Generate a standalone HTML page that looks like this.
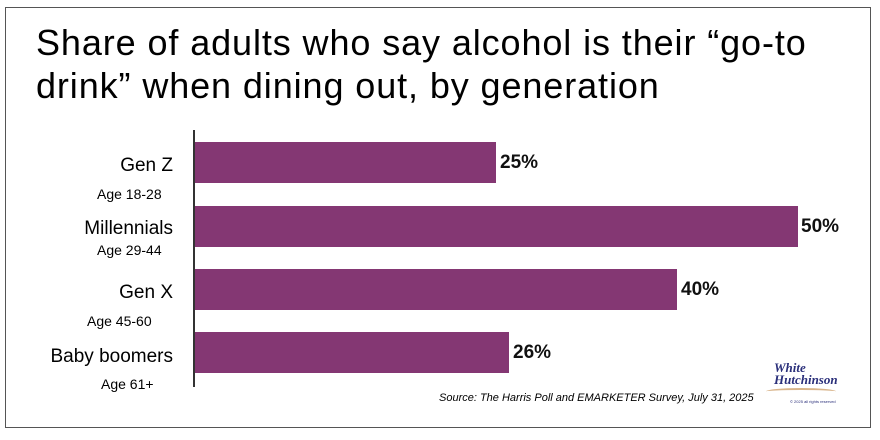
<!DOCTYPE html>
<html><head><style>
body{margin:0;width:880px;height:440px;background:#fff;position:relative;font-family:"Liberation Sans",sans-serif;overflow:hidden}
.frame{position:absolute;left:5px;top:7px;width:864px;height:419px;border:1.5px solid #555}
.t{position:absolute;left:36px;font-size:36px;letter-spacing:0.9px;color:#000;white-space:nowrap}
.bar{position:absolute;left:195px;height:41px;background:#843773}
.v{position:absolute;font-size:19px;font-weight:bold;color:#111}
.l{position:absolute;right:707px;font-size:19px;color:#000;text-align:right;white-space:nowrap}
.a{position:absolute;font-size:14px;color:#000;white-space:nowrap}
</style></head><body>
<div class="frame"></div>
<div class="t" style="top:22px">Share of adults who say alcohol is their “go-to</div>
<div class="t" style="top:65px">drink” when dining out, by generation</div>
<div style="position:absolute;left:193px;top:130px;width:1.5px;height:257px;background:#333"></div>
<div class="bar" style="top:142px;width:301px"></div>
<div class="bar" style="top:206px;width:603px"></div>
<div class="bar" style="top:269px;width:482px"></div>
<div class="bar" style="top:332px;width:314px"></div>
<div class="v" style="left:500px;top:152px">25%</div>
<div class="v" style="left:801px;top:216px">50%</div>
<div class="v" style="left:681px;top:279px">40%</div>
<div class="v" style="left:513px;top:342px">26%</div>
<div class="l" style="top:155px">Gen Z</div>
<div class="a" style="left:97px;top:186px">Age 18-28</div>
<div class="l" style="top:218px">Millennials</div>
<div class="a" style="left:97px;top:242px">Age 29-44</div>
<div class="l" style="top:282px">Gen X</div>
<div class="a" style="left:87px;top:313px">Age 45-60</div>
<div class="l" style="top:346px">Baby boomers</div>
<div class="a" style="left:101px;top:376px">Age 61+</div>
<div style="position:absolute;left:439px;top:392px;font-size:11px;font-style:italic">Source: The Harris Poll and EMARKETER Survey, July 31, 2025</div>
<div style="position:absolute;left:774px;top:362px;font-size:13px;font-style:italic;font-weight:bold;color:#2a2f7a;line-height:12px;font-family:'Liberation Serif',serif">White<br>Hutchinson</div>
<div style="position:absolute;left:766px;top:388px;width:70px;height:5px;border-top:2px solid #d8b48a;border-radius:50%"></div>
<div style="position:absolute;left:790px;top:399px;font-size:4px;color:#2a2f7a">© 2025 all rights reserved</div>
</body></html>
